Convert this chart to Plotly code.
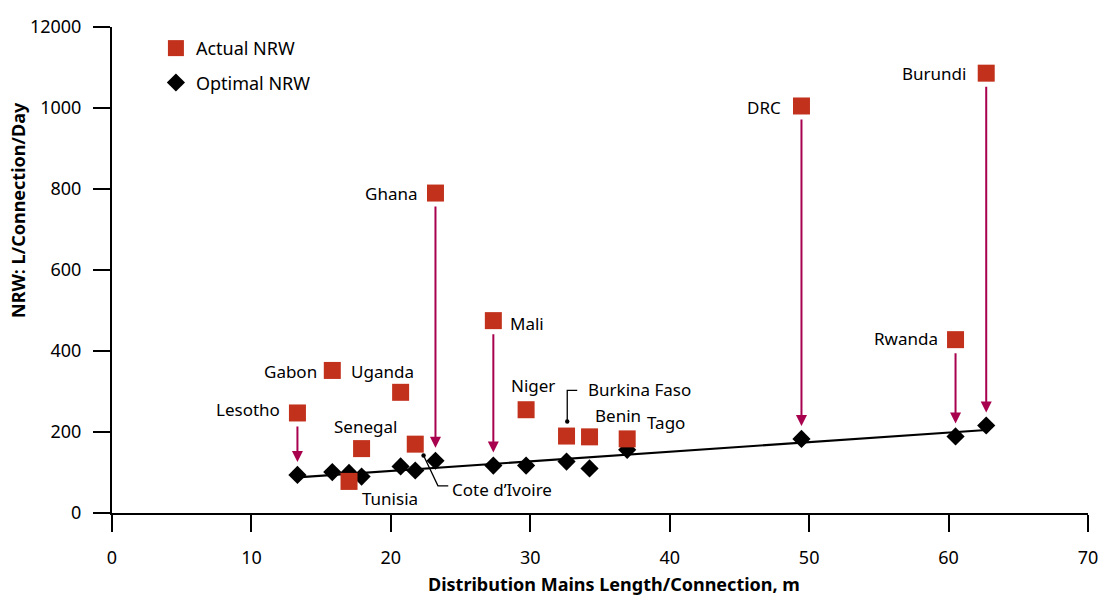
import plotly.graph_objects as go

# ---------------- data ----------------
countries = ["Lesotho", "Gabon", "Uganda", "Senegal", "Tunisia", "Cote d\u2019Ivoire",
             "Ghana", "Mali", "Niger", "Burkina Faso", "Benin", "Tago",
             "DRC", "Rwanda", "Burundi"]
mains_length = [13.3, 15.8, 20.7, 17.9, 17.0, 21.75, 23.2, 27.35, 29.7, 32.6,
                34.25, 36.95, 49.45, 60.5, 62.7]
actual_nrw = [247, 352, 298, 159, 78, 170, 790, 475, 255, 190, 188, 183, 1005, 428, 1086]
optimal_nrw = [94, 101, 115, 90, 99, 105, 129, 117, 117, 127, 110, 156, 183, 189, 216]
arrow_countries = ["Lesotho", "Ghana", "Mali", "DRC", "Rwanda", "Burundi"]
trend_x = [13.3, 62.7]
trend_y = [88, 205]
x_ticks = [0, 10, 20, 30, 40, 50, 60, 70]
y_ticks = [0, 200, 400, 600, 800, 1000, 1200]
y_ticktext = ["0", "200", "400", "600", "800", "1000", "12000"]

# ---------------- style ----------------
FONT = "Noto Sans"
RED = "#C1311C"
CRIMSON = "#A8024F"

# label placement: (anchor, dx px right, dy px down) relative to actual-NRW square
label_pos = {
    "Lesotho": ("right", -15, -3),
    "Gabon": ("right", -13, 1),
    "Uganda": ("left", -52, -21),
    "Senegal": ("left", -30, -22),
    "Tunisia": ("left", 11, 17),
    "Cote d\u2019Ivoire": ("left", 35, 45),
    "Ghana": ("right", -16, 0),
    "Mali": ("left", 15, 3),
    "Niger": ("left", -17, -24),
    "Burkina Faso": ("left", 19, -47),
    "Benin": ("left", 3, -21),
    "Tago": ("left", 18, -16),
    "DRC": ("right", -18, 2),
    "Rwanda": ("right", -16, -1),
    "Burundi": ("right", -18, 0),
}
# leader lines (points in px, dx right, dy down) relative to square
leaders = {
    "Cote d\u2019Ivoire": [(8.3, 11.4), (22.7, 41.7), (33.0, 41.7)],
    "Burkina Faso": [(0.7, -14.6), (0.7, -45.6), (10.7, -45.6)],
}

fig = go.Figure()

fig.add_trace(go.Scatter(x=trend_x, y=trend_y, mode="lines",
                         line=dict(color="black", width=2.2),
                         showlegend=False, hoverinfo="skip"))
fig.add_trace(go.Scatter(x=mains_length, y=optimal_nrw, mode="markers",
                         name="Optimal NRW", legendgroup="b", legendrank=2,
                         marker=dict(symbol="diamond", size=14, color="black",
                                     line=dict(width=0))))
fig.add_trace(go.Scatter(x=mains_length, y=actual_nrw, mode="markers",
                         name="Actual NRW", legendgroup="a", legendrank=1,
                         marker=dict(symbol="square", size=17, color=RED,
                                     line=dict(width=0))))

annotations = []
shapes = []
for c, xv, ya, yo in zip(countries, mains_length, actual_nrw, optimal_nrw):
    anchor, dx, dy = label_pos[c]
    annotations.append(dict(x=xv, y=ya, xref="x", yref="y", text=c,
                            showarrow=False, xanchor=anchor, yanchor="middle",
                            xshift=dx, yshift=-dy,
                            font=dict(family=FONT, size=17, color="black")))
    if c in arrow_countries:
        annotations.append(dict(x=xv, y=yo, ax=xv, ay=ya, xref="x", yref="y",
                                axref="x", ayref="y", text="", showarrow=True,
                                arrowhead=2, arrowsize=1.1, arrowwidth=2,
                                arrowcolor=CRIMSON, standoff=13, startstandoff=12))
    if c in leaders:
        pts = leaders[c]
        path = "M" + " L".join(f"{px},{-py}" for px, py in pts)
        shapes.append(dict(type="path", xref="x", yref="y",
                           xsizemode="pixel", ysizemode="pixel",
                           xanchor=xv, yanchor=ya, path=path,
                           line=dict(color="black", width=1.3)))
        px0, py0 = pts[0]
        shapes.append(dict(type="circle", xref="x", yref="y",
                           xsizemode="pixel", ysizemode="pixel",
                           xanchor=xv, yanchor=ya,
                           x0=px0 - 2.2, x1=px0 + 2.2, y0=-py0 - 2.2, y1=-py0 + 2.2,
                           fillcolor="black", line=dict(width=0)))

# axis titles
annotations.append(dict(text="<b>NRW: L/Connection/Day</b>", xref="paper", yref="paper",
                        x=-0.0963, y=0.6235, textangle=-90, showarrow=False,
                        xanchor="center", yanchor="middle",
                        font=dict(family=FONT, size=18, color="black")))
annotations.append(dict(text="<b>Distribution Mains Length/Connection, m</b>",
                        xref="paper", yref="paper", x=0.514, y=-0.146,
                        showarrow=False, xanchor="center", yanchor="middle",
                        font=dict(family=FONT, size=18, color="black")))

fig.update_layout(
    width=1101, height=599,
    margin=dict(l=112, r=13, t=27, b=86),
    plot_bgcolor="white", paper_bgcolor="white",
    font=dict(family=FONT, size=17, color="black"),
    annotations=annotations, shapes=shapes,
    showlegend=True,
    legend=dict(x=0.045, y=0.994, xanchor="left", yanchor="top",
                bgcolor="rgba(0,0,0,0)", font=dict(family=FONT, size=18),
                traceorder="grouped", tracegroupgap=8),
)
fig.update_xaxes(range=[0, 70], tickvals=x_ticks, showline=True, linecolor="black",
                 linewidth=2, ticks="outside", ticklen=17, tickwidth=2,
                 tickcolor="black", showgrid=False, zeroline=False, automargin=False,
                 ticklabelstandoff=10, tickfont=dict(size=18))
fig.update_yaxes(range=[0, 1200], tickvals=y_ticks, ticktext=y_ticktext, showline=True,
                 linecolor="black", linewidth=2, ticks="outside", ticklen=17,
                 tickwidth=2, tickcolor="black", showgrid=False, zeroline=False,
                 automargin=False, ticklabelstandoff=8, tickfont=dict(size=18))

# remove the browser's default 8px page margin so the figure fills the window
fig.write_html("out.html",
               config={"displayModeBar": False},
               post_script="document.body.style.margin='0';"
                           "document.body.style.overflow='hidden';")
